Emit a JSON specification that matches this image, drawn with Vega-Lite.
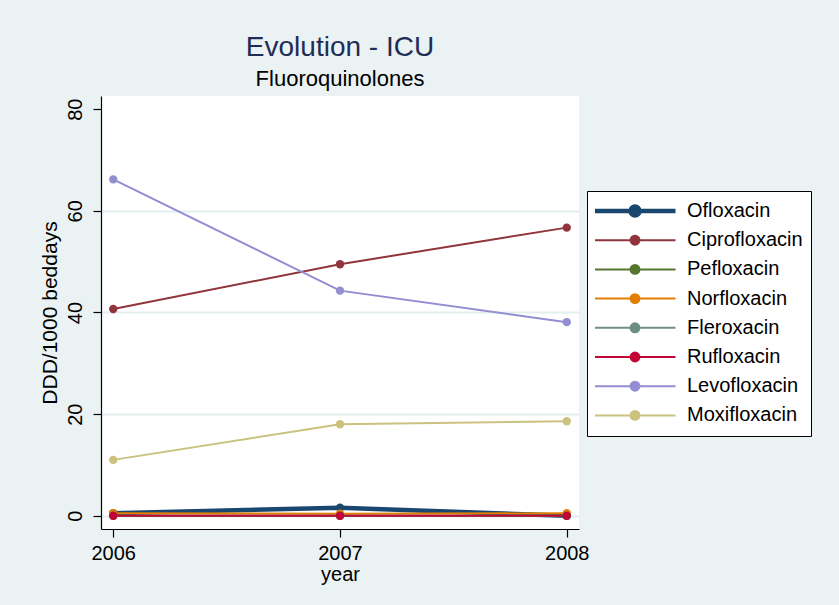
{
  "$schema": "https://vega.github.io/schema/vega-lite/v6.json",
  "autosize": "none",
  "width": 478,
  "height": 433,
  "padding": {"left": 101, "top": 96, "right": 260, "bottom": 76},
  "background": "#eaf2f3",
  "title": {
    "text": "Evolution - ICU",
    "subtitle": "Fluoroquinolones",
    "anchor": "middle",
    "frame": "group",
    "font": "Liberation Sans",
    "fontSize": 28,
    "fontWeight": "normal",
    "color": "#1f2d56",
    "subtitleFont": "Liberation Sans",
    "subtitleFontSize": 22,
    "subtitleColor": "#000000",
    "subtitlePadding": 7,
    "offset": 6
  },
  "config": {
    "view": {"stroke": null, "fill": "#ffffff"},
    "font": "Liberation Sans",
    "axis": {
      "labelFont": "Liberation Sans",
      "labelFontSize": 20,
      "labelColor": "#000000",
      "titleFont": "Liberation Sans",
      "titleFontWeight": "normal",
      "titleColor": "#000000",
      "domainColor": "#000000",
      "domainWidth": 1.2,
      "tickColor": "#000000",
      "tickWidth": 1.2,
      "tickSize": 8
    }
  },
  "data": {
    "values": [
      {"series": "Ofloxacin", "year": 2006, "value": 0.5},
      {"series": "Ofloxacin", "year": 2007, "value": 1.6},
      {"series": "Ofloxacin", "year": 2008, "value": 0.0},
      {"series": "Ciprofloxacin", "year": 2006, "value": 40.7},
      {"series": "Ciprofloxacin", "year": 2007, "value": 49.5},
      {"series": "Ciprofloxacin", "year": 2008, "value": 56.7},
      {"series": "Pefloxacin", "year": 2006, "value": 0.0},
      {"series": "Pefloxacin", "year": 2007, "value": 0.0},
      {"series": "Pefloxacin", "year": 2008, "value": 0.0},
      {"series": "Norfloxacin", "year": 2006, "value": 0.5},
      {"series": "Norfloxacin", "year": 2007, "value": 0.4},
      {"series": "Norfloxacin", "year": 2008, "value": 0.5},
      {"series": "Fleroxacin", "year": 2006, "value": 0.0},
      {"series": "Fleroxacin", "year": 2007, "value": 0.0},
      {"series": "Fleroxacin", "year": 2008, "value": 0.0},
      {"series": "Rufloxacin", "year": 2006, "value": 0.0},
      {"series": "Rufloxacin", "year": 2007, "value": 0.0},
      {"series": "Rufloxacin", "year": 2008, "value": 0.0},
      {"series": "Levofloxacin", "year": 2006, "value": 66.2},
      {"series": "Levofloxacin", "year": 2007, "value": 44.3},
      {"series": "Levofloxacin", "year": 2008, "value": 38.1},
      {"series": "Moxifloxacin", "year": 2006, "value": 11.0},
      {"series": "Moxifloxacin", "year": 2007, "value": 18.0},
      {"series": "Moxifloxacin", "year": 2008, "value": 18.6}
    ]
  },
  "encoding": {
    "x": {
      "field": "year",
      "type": "ordinal",
      "scale": {"type": "point", "padding": 0.054},
      "axis": {
        "grid": false,
        "labelAngle": 0,
        "labelOverlap": false,
        "title": "year",
        "titleFontSize": 20,
        "titlePadding": 1,
        "labelPadding": 6
      }
    },
    "y": {
      "field": "value",
      "type": "quantitative",
      "scale": {"domain": [-2.6, 82.6], "nice": false, "zero": false},
      "axis": {
        "values": [0, 20, 40, 60, 80],
        "title": "DDD/1000 beddays",
        "titleFontSize": 21,
        "titlePadding": 5,
        "labelAngle": -90,
        "labelAlign": "center",
        "labelBaseline": "bottom",
        "labelPadding": 8,
        "labelOverlap": false,
        "labelFlush": false,
        "grid": true,
        "gridColor": "#e4eef0",
        "gridWidth": 2,
        "gridOpacity": {"condition": {"test": "datum.value === 80", "value": 0}, "value": 1}
      }
    },
    "color": {
      "field": "series",
      "type": "nominal",
      "scale": {
        "domain": ["Ofloxacin", "Ciprofloxacin", "Pefloxacin", "Norfloxacin", "Fleroxacin", "Rufloxacin", "Levofloxacin", "Moxifloxacin"],
        "range": ["#1a476f", "#90353b", "#55752f", "#e37e00", "#6e8e84", "#c10534", "#938dd2", "#cac27e"]
      },
      "legend": {
        "title": null,
        "orient": "none",
        "legendX": 486,
        "legendY": 95,
        "padding": 8,
        "strokeColor": "#000000",
        "fillColor": "#ffffff",
        "cornerRadius": 0,
        "labelFont": "Liberation Sans",
        "labelFontSize": 20,
        "labelColor": "#000000",
        "labelOffset": 42,
        "symbolOffset": 30,
        "symbolType": "M-1,0L1,0M-0.11,0A0.11,0.11,0,1,1,0.11,0A0.11,0.11,0,1,1,-0.11,0Z",
        "symbolSize": 6561,
        "clipHeight": 24,
        "rowPadding": 5.2,
        "encode": {
          "symbols": {
            "update": {
              "fill": {"scale": "color", "field": "value"},
              "stroke": {"scale": "color", "field": "value"},
              "strokeWidth": {"signal": "datum.value === 'Ofloxacin' ? 4.5 : 2"}
            }
          }
        }
      }
    }
  },
  "layer": [
    {
      "mark": {"type": "line"},
      "encoding": {
        "strokeWidth": {"condition": {"test": "datum.series === 'Ofloxacin'", "value": 4.5}, "value": 2}
      }
    },
    {
      "mark": {"type": "point", "filled": true, "shape": "circle", "size": 70, "opacity": 1}
    }
  ]
}
